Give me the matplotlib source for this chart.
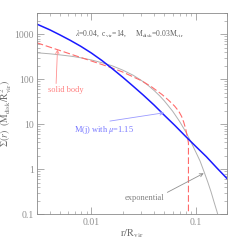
import matplotlib
matplotlib.use('Agg')
import matplotlib.pyplot as plt

plt.rcParams['font.family'] = ['Liberation Serif', 'DejaVu Serif']
plt.rcParams['mathtext.fontset'] = 'stix'

# r/R_vir and Sigma
r_mj = [0.003, 0.004, 0.005, 0.0063, 0.0079, 0.01, 0.0126, 0.0158, 0.02, 0.025, 0.0316,
        0.04, 0.05, 0.063, 0.079, 0.1, 0.126, 0.158, 0.2, 0.21]
sig_mj = [1700, 1265, 975, 735, 545, 385, 263, 174, 111, 71, 44,
          26.5, 15.8, 9.4, 5.5, 3.2, 1.9, 1.08, 0.61, 0.55]

r_solid = [0.003, 0.004, 0.005, 0.0065, 0.008, 0.01, 0.0126, 0.0157, 0.02, 0.0244, 0.0305,
           0.038, 0.0474, 0.055, 0.0625, 0.0686, 0.073, 0.0767, 0.08, 0.083, 0.085, 0.085]
sig_solid = [652, 521, 438, 357, 304, 256, 214, 180, 145, 117, 92,
             67, 46, 34, 25.5, 19.5, 15, 11, 7.8, 5.3, 3.8, 0.01]

r_exp = [0.003, 0.004, 0.005, 0.0065, 0.008, 0.01, 0.013, 0.016, 0.02, 0.025, 0.03, 0.035,
         0.04, 0.045, 0.05, 0.06, 0.07, 0.08, 0.09, 0.1, 0.11, 0.12, 0.13, 0.14, 0.15,
         0.16, 0.17, 0.18]
sig_exp = [390, 370, 350, 325, 300, 270, 230, 198, 160, 124, 95, 73,
           56, 43, 33, 19.5, 11.5, 6.8, 4.0, 2.4, 1.5, 0.87, 0.52, 0.31, 0.18,
           0.11, 0.065, 0.04]

fig = plt.figure(figsize=(2.4, 2.4), dpi=100)
ax = fig.add_axes([0.153, 0.108, 0.794, 0.838])
ax.set_xscale('log')
ax.set_yscale('log')

ax.plot(r_exp, sig_exp, color='#b0b0b0', lw=0.7)
ax.plot(r_solid, sig_solid, color='#ff6b6b', lw=0.8, dashes=(6, 2.5))
ax.plot(r_mj, sig_mj, color='#1a1aff', lw=1.1)

ax.set_xlim(0.003, 0.2)
ax.set_ylim(0.1, 3000)

tc = '#8a8a8a'
for s in ax.spines.values():
    s.set_color(tc)
    s.set_linewidth(0.6)
ax.tick_params(which='both', direction='in', top=True, right=True, colors=tc, labelcolor='#909090', labelsize=7)
ax.tick_params(which='major', length=5, width=0.5)
ax.tick_params(which='minor', length=2.5, width=0.4)
ax.set_xticks([0.01, 0.1])
ax.set_xticklabels(['0.01', '0.1'])
ax.set_yticks([0.1, 1, 10, 100, 1000])
ax.set_yticklabels(['0.1', '1', '10', '100', '1000'])
ax.xaxis.set_tick_params(pad=3)
ax.yaxis.set_tick_params(pad=2)

ax.set_xlabel(r'$\mathrm{r/R_{vir}}$', fontsize=7.5, color='#707070', labelpad=0)
ax.set_ylabel(r'$\Sigma(r)\ \ (\mathrm{M_{disk}/R^2_{vir}})$', fontsize=7, color='#707070', labelpad=0)

ax.text(0.0069, 1050, r'$\lambda$=0.04,  c$_{\rm vir}$=14,     M$_{\rm disk}$=0.03M$_{\rm vir}$',
        fontsize=5.5, color='#606060', va='center')

ax.annotate('solid body', xy=(0.00474, 462), xytext=(0.00386, 57), fontsize=6, color='#ff8080',
            va='center', arrowprops=dict(arrowstyle='->', color='#ff9090', lw=0.6, shrinkA=0, shrinkB=0,
                                         relpos=(0.22, 1.0)))
ax.annotate(r'M(j) with $\mu$=1.15', xy=(0.0496, 18), xytext=(0.0068, 7.5), fontsize=6, color='#7777ff',
            va='center', arrowprops=dict(arrowstyle='->', color='#9a9aff', lw=0.6, shrinkA=0, shrinkB=0,
                                         relpos=(0.3, 1.0)))
ax.annotate('exponential', xy=(0.119, 0.81), xytext=(0.0209, 0.23), fontsize=6, color='#808080',
            va='center', arrowprops=dict(arrowstyle='->', color='#909090', lw=0.6, shrinkA=0, shrinkB=0,
                                         relpos=(1.0, 1.0)))

fig.savefig('out.png', dpi=100)
